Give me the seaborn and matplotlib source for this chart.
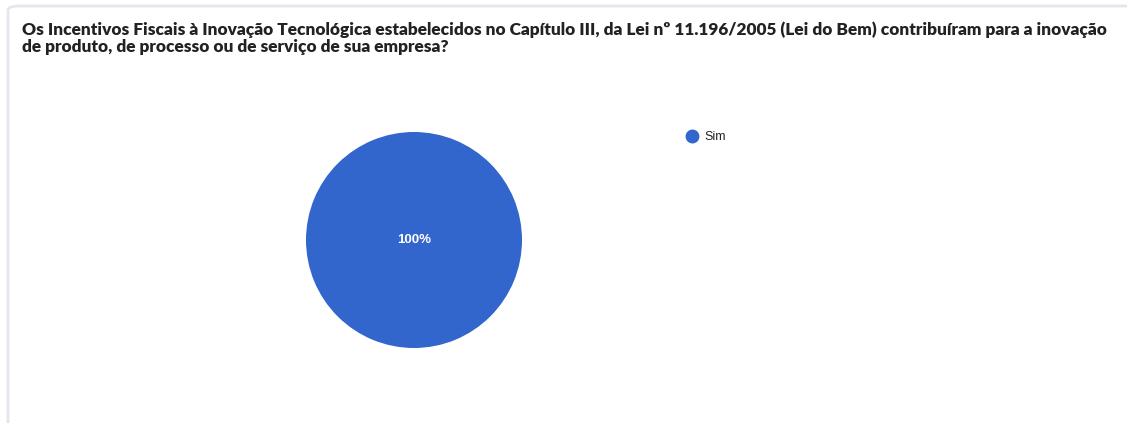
import matplotlib
matplotlib.use("Agg")
import matplotlib.pyplot as plt
import seaborn as sns
from matplotlib.patches import FancyBboxPatch
from matplotlib.lines import Line2D

categories = ["Sim"]
values = [100]
colors = ["#3366CC"]
title = ("Os Incentivos Fiscais à Inovação Tecnológica estabelecidos no Capítulo III, da Lei nº 11.196/2005 (Lei do Bem) contribuíram para a inovação\n"
         "de produto, de processo ou de serviço de sua empresa?")

sns.set_theme(style="white")
plt.rcParams['font.family'] = ['Liberation Sans', 'DejaVu Sans']

W, H = 1127, 423
fig = plt.figure(figsize=(W / 100, H / 100), dpi=100)
fig.patch.set_facecolor("white")

# card border
card = FancyBboxPatch((8 / W, -0.2), 1.2, (H - 6) / H + 0.2,
                      boxstyle="round,pad=0,rounding_size=0.01",
                      transform=fig.transFigure, facecolor="none",
                      edgecolor="#e2e7ed", linewidth=2)
fig.patches.append(card)

fig.text(22 / W, 1 - 21 / H, title, ha="left", va="top", fontsize=12.4,
         fontweight="heavy", color="#222222", family=["Lato", "DejaVu Sans"],
         linespacing=1.08)

r = 108
cx, cy = 414, 240
ax = fig.add_axes([(cx - r) / W, (H - cy - r) / H, 2 * r / W, 2 * r / H])
wedges, texts, autotexts = ax.pie(values, colors=colors, startangle=90,
                                  autopct="%1.0f%%", pctdistance=0.0,
                                  wedgeprops=dict(linewidth=0),
                                  textprops=dict(color="white", fontsize=9.5, fontweight="bold"))
ax.set_xlim(-1, 1)
ax.set_ylim(-1, 1)
ax.set_aspect("equal")
ax.axis("off")

handles = [Line2D([0], [0], marker="o", linestyle="none", markersize=9,
                  markerfacecolor=c, markeredgecolor=c) for c in colors]
fig.legend(handles, categories, loc="center left",
           bbox_to_anchor=(679 / W, 1 - 137 / H), frameon=False,
           fontsize=9, handletextpad=0.0, labelcolor="#222222",
           borderaxespad=0, borderpad=0)

fig.savefig("out.png", dpi=100, facecolor="white")
